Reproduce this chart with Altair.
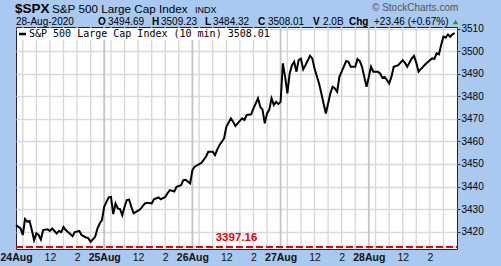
import altair as alt
import pandas as pd

# ---------------- data ----------------
# 10-minute bar index (0 = 24 Aug 09:30, 39 bars per trading day)
bars = [0, 2, 3, 4, 5, 6, 7, 8, 9, 10, 11, 12, 14, 15, 16, 18, 19, 20, 21, 22, 23, 25, 26, 28, 29, 31, 32, 33,
        35, 36, 37, 38,
        39, 40, 41, 42, 43, 44, 45, 46, 47, 48, 49, 50, 51, 52, 54, 55, 57, 58, 60, 61, 63, 64, 66, 67, 68, 69,
        70, 71, 73, 74, 75, 77,
        78, 79, 81, 82, 84, 85, 87, 88, 89, 90, 92, 93, 95, 96, 97, 98, 100, 101, 102, 104, 105, 106, 107, 108,
        109, 110, 111, 112, 113, 114, 115, 116,
        117, 118, 119, 120, 121, 122, 123, 124, 125, 126, 127, 128, 130, 131, 132, 134, 135, 136, 137, 138, 139,
        140, 141, 142, 143, 144, 146, 147, 148, 150, 151, 152, 153, 154, 155,
        156, 157, 158, 160, 161, 162, 163, 164, 165, 166, 167, 168, 169, 171, 172, 173, 175, 176, 177, 178, 179,
        180, 181, 183, 184, 185, 186, 187, 188, 189, 190, 191, 192, 193, 194]
prices = [3422.9, 3421.4, 3418.5, 3425.6, 3424.4, 3424.7, 3420.7, 3416.2, 3419.2, 3418.5, 3416.5, 3420.7,
          3421.0, 3420.3, 3421.4, 3419.2, 3420.3, 3419.8, 3422.1, 3420.7, 3419.8, 3418.0, 3419.8, 3420.3,
          3418.5, 3417.4, 3417.0, 3415.5, 3417.7, 3421.4, 3423.6, 3425.1,
          3431.0, 3433.2, 3435.2, 3435.4, 3427.8, 3432.5, 3430.3, 3430.0, 3427.3, 3431.0, 3434.0, 3434.2,
          3431.0, 3428.1, 3429.3, 3430.0, 3432.5, 3432.8, 3432.5, 3434.3, 3435.2, 3434.3, 3435.4, 3437.0,
          3438.4, 3438.1, 3437.8, 3439.9, 3440.6, 3442.8, 3443.0, 3441.4,
          3447.3, 3448.8, 3449.9, 3450.5, 3453.2, 3455.4, 3455.4, 3453.9, 3456.4, 3458.4, 3461.3, 3466.5,
          3470.2, 3468.7, 3466.8, 3468.0, 3470.2, 3469.5, 3471.7, 3472.0, 3474.6, 3476.8, 3479.1, 3475.3,
          3474.1, 3468.0, 3472.4, 3474.1, 3479.1, 3476.1, 3477.5, 3476.5,
          3477.5, 3494.6, 3488.6, 3481.3, 3490.1, 3493.8, 3495.3, 3490.9, 3496.0, 3496.7, 3491.9, 3493.8,
          3497.9, 3496.8, 3492.3, 3485.7, 3481.3, 3476.8, 3472.4, 3476.8, 3481.3, 3484.2, 3483.5, 3482.0,
          3488.6, 3490.9, 3495.6, 3495.3, 3493.1, 3493.1, 3496.5, 3495.6, 3493.1, 3488.6, 3484.2,
          3488.6, 3493.1, 3490.9, 3490.9, 3490.1, 3488.2, 3488.6, 3487.2, 3485.7, 3488.6, 3493.1, 3493.4,
          3493.8, 3496.0, 3494.8, 3493.1, 3496.8, 3497.9, 3494.8, 3490.9, 3492.0, 3493.1, 3494.2, 3496.0,
          3496.8, 3496.5, 3499.0, 3498.6, 3502.7, 3506.4, 3506.0, 3507.4, 3506.4, 3507.5, 3508.0]

day_labels = ["24Aug", "25Aug", "26Aug", "27Aug", "28Aug"]
bars_per_day = 39
label_offsets = [0, 15, 27]          # open, 12:00, 14:00
hour_offsets = [3, 9, 15, 21, 27, 33]  # 10:00 ... 15:00
y_ticks = [3420, 3430, 3440, 3450, 3460, 3470, 3480, 3490, 3500, 3510]
ref_value = 3397.16

x_tick_values = [d * bars_per_day + o for d in range(len(day_labels)) for o in label_offsets]
hour_grid = [d * bars_per_day + o for d in range(len(day_labels)) for o in hour_offsets]
day_grid = [d * bars_per_day for d in range(1, len(day_labels))]

W, H = 441, 222
BG = "#a9c9f0"

df = pd.DataFrame({"bar": bars, "price": prices})

xscale = alt.Scale(domain=[0, 195], nice=False, zero=False)
yscale = alt.Scale(domain=[3412.3, 3510.7], nice=False, zero=False, clamp=True)

days_js = "[" + ",".join("'%s'" % d for d in day_labels) + "]"
label_expr = ("datum.value % 39 == 0 ? " + days_js + "[floor(datum.value/39)] : "
              "(datum.value % 39 == 15 ? '12' : '2')")

x_axis = alt.Axis(values=x_tick_values, labelExpr=label_expr, grid=False, ticks=False, domain=False,
                  title=None, labelFontSize=10.5, labelFont="Liberation Sans", labelColor="#111",
                  labelPadding=3, labelAngle=0, labelOverlap=False, labelFlush=False,
                  labelFontWeight={"condition": {"test": "datum.value % 39 == 0", "value": "bold"},
                                   "value": "normal"})
y_axis = alt.Axis(orient="right", values=y_ticks, format="d", grid=True, gridColor="#dadada", gridWidth=1.3,
                  ticks=True, tickSize=3, tickColor="#333", domain=False, title=None,
                  labelOverlap=False, labelFlush=False,
                  labelFontSize=10, labelFont="Liberation Sans", labelColor="#000", labelPadding=1)

# hourly vertical gridlines
hour_df = pd.DataFrame({"bar": hour_grid})
hour_rules = alt.Chart(hour_df).mark_rule(color="#d6d6d6", strokeWidth=1.3).encode(
    x=alt.X("bar:Q", scale=xscale, axis=x_axis)
)
day_df = pd.DataFrame({"bar": day_grid})
day_rules = alt.Chart(day_df).mark_rule(color="#c4c4c4", strokeWidth=1.8).encode(
    x=alt.X("bar:Q", scale=xscale, axis=x_axis)
)

line = alt.Chart(df).mark_line(color="#000", strokeWidth=2).encode(
    x=alt.X("bar:Q", scale=xscale, axis=x_axis),
    y=alt.Y("price:Q", scale=yscale, axis=y_axis),
)

ref_df = pd.DataFrame({"v": [ref_value], "label": ["%.2f" % ref_value]})
ref_rule = alt.Chart(ref_df).mark_rule(color="#ee0000", strokeWidth=2, strokeDash=[7, 3], yOffset=-2).encode(
    y=alt.Y("v:Q", scale=yscale, axis=y_axis), x=alt.value(0), x2=alt.value(W)
)
ref_text = alt.Chart(ref_df).mark_text(color="#ee0000", fontWeight="bold", fontSize=11.5,
                                       font="Liberation Sans", align="center", baseline="middle",
                                       dy=-11).encode(
    y=alt.Y("v:Q", scale=yscale, axis=y_axis), x=alt.value(W / 2), text="label:N"
)

one = pd.DataFrame({"a": [0]})

legend_box = alt.Chart(one).mark_rect(color="white").encode(
    x=alt.value(1), x2=alt.value(254), y=alt.value(1), y2=alt.value(13)
)
legend_dash = alt.Chart(one).mark_rule(color="#000", strokeWidth=2.5).encode(
    x=alt.value(3), x2=alt.value(10), y=alt.value(7)
)


def txt(s, x, y, size=10, weight="normal", color="#000", font="Liberation Sans", baseline="alphabetic"):
    return alt.Chart(one).mark_text(text=s, align="left", baseline=baseline, fontSize=size,
                                    fontWeight=weight, color=color, font=font).encode(
        x=alt.value(x), y=alt.value(y))


legend_text = txt("S&P 500 Large Cap Index (10 min) 3508.01", 13, 7, size=10,
                  font="DejaVu Sans Mono", baseline="middle")

header = [
    txt("$SPX", -1, -14, size=13.5, weight="bold"),
    txt("S&P 500 Large Cap Index", 36, -14, size=11.7),
    txt("INDX", 179, -14, size=9),
    txt("\u00a9 StockCharts.com", 356, -16, size=10, color="#555"),
    txt("28-Aug-2020", 0, -2, size=10),
    txt("O", 82, -2, weight="bold"), txt("3494.69", 92, -2),
    txt("H", 136, -2, weight="bold"), txt("3509.23", 145, -2),
    txt("L", 189, -2, weight="bold"), txt("3484.32", 197, -2),
    txt("C", 242, -2, weight="bold"), txt("3508.01", 252, -2),
    txt("V", 297, -2, weight="bold"), txt("2.0B", 307, -2),
    txt("Chg", 333, -2, weight="bold"), txt("+23.46 (+0.67%)", 358, -2),
]
tri = alt.Chart(one).mark_point(shape="triangle-up", filled=True, color="#1a9a1a", size=28, opacity=1).encode(
    x=alt.value(439.5), y=alt.value(-5)
)

chart = alt.layer(
    hour_rules, day_rules, legend_box, ref_rule, line, ref_text, legend_dash, legend_text, *header, tri
).properties(
    width=W, height=H, background=BG,
    padding={"left": 16, "top": 27, "right": 44, "bottom": 17},
    autosize=alt.AutoSizeParams(type="none"),
).configure_view(
    fill="white", stroke="#202040", strokeWidth=1
)

chart.save("out.html", embed_options={"renderer": "svg", "actions": False})
